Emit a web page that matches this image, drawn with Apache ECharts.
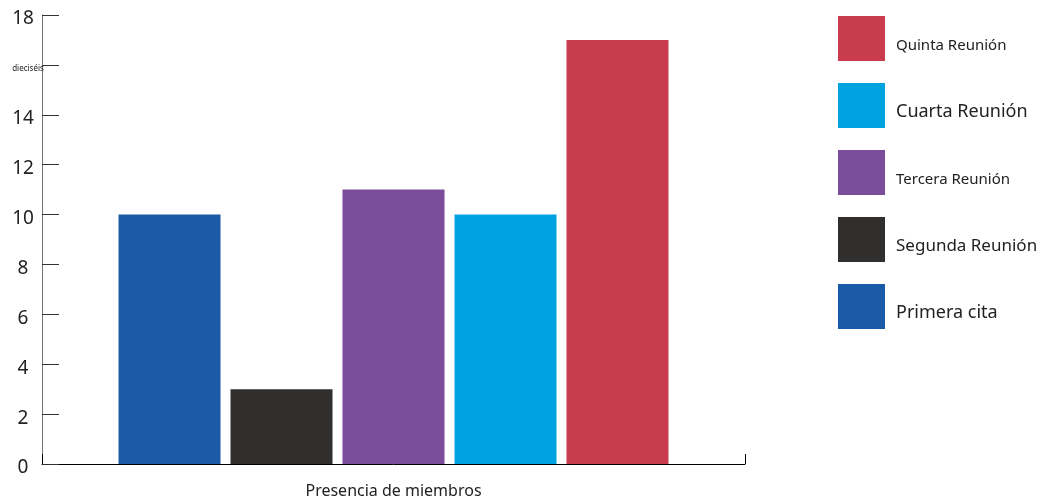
<!DOCTYPE html>
<html>
<head>
<meta charset="utf-8">
<script src="https://cdn.jsdelivr.net/npm/echarts@6/dist/echarts.min.js"></script>
<style>html,body{margin:0;padding:0;background:#fff}#c{width:1053px;height:500px}</style>
</head>
<body>
<div id="c"></div>
<script>
var categories = ['Presencia de miembros'];
var seriesNames = ['Primera cita', 'Segunda Reunión', 'Tercera Reunión', 'Cuarta Reunión', 'Quinta Reunión'];
var seriesValues = [10, 3, 11, 10, 17];
var seriesColors = ['#1a5aa6', '#302f2e', '#7a4c9a', '#00a3e0', '#c83c4e'];
var legendOrder = ['Quinta Reunión', 'Cuarta Reunión', 'Tercera Reunión', 'Segunda Reunión', 'Primera cita'];
var yTickLabels = {0:'0', 2:'2', 4:'4', 6:'6', 8:'8', 10:'10', 12:'12', 14:'14', 16:'dieciséis', 18:'18'};
var legendSizes = {'Quinta Reunión':'s16', 'Cuarta Reunión':'s18', 'Tercera Reunión':'s16', 'Segunda Reunión':'s17', 'Primera cita':'s18'};

var font = 'Noto Sans';
var chart = echarts.init(document.getElementById('c'));
var series = seriesNames.map(function (n, i) {
  return {
    name: n, type: 'bar', data: [seriesValues[i]],
    barWidth: 102, barGap: '9.8%',
    itemStyle: { color: seriesColors[i] }
  };
});
chart.setOption({
  animation: false,
  textStyle: { fontFamily: font },
  grid: { left: 42, right: 308, top: 15, bottom: 36, containLabel: false },
  legend: {
    data: legendOrder, orient: 'vertical', left: 838, top: 16, padding: 0,
    itemWidth: 47, itemHeight: 45, itemGap: 22, icon: 'rect',
    formatter: function (n) { return '{' + legendSizes[n] + '|' + n + '}'; },
    textStyle: {
      fontFamily: font, color: '#222', padding: [0,0,0,6],
      rich: {
        s16: { fontSize: 15, fontFamily: font, color: '#222', padding: [14,0,0,0] },
        s17: { fontSize: 17, fontFamily: font, color: '#222', padding: [14,0,0,0] },
        s18: { fontSize: 18, fontFamily: font, color: '#222', padding: [13,0,0,0] }
      }
    }
  },
  xAxis: {
    type: 'category', data: categories,
    axisLine: { lineStyle: { color: '#000', width: 1 } },
    axisTick: { show: true, inside: true, length: 10, lineStyle: { color: '#000' } },
    axisLabel: { fontSize: 16, color: '#222', fontFamily: font, margin: 19 }
  },
  yAxis: {
    type: 'value', min: 0, max: 18, interval: 2,
    axisLine: { show: true, lineStyle: { color: '#777', width: 1 } },
    axisTick: { show: true, inside: true, length: 17, lineStyle: { color: '#333' } },
    splitLine: { show: false },
    axisLabel: {
      color: '#222', fontFamily: font, margin: 19, align: 'center',
      formatter: function (v) { var t = yTickLabels[v]; return v === 16 ? '{sm|' + t + '}' : '{bg|' + t + '}'; },
      rich: {
        bg: { fontSize: 19, fontFamily: font, color: '#222', padding: [8,0,0,0] },
        sm: { fontSize: 8, fontFamily: font, color: '#222', padding: [8,0,0,10] }
      }
    }
  },
  series: series
});
</script>
</body>
</html>
